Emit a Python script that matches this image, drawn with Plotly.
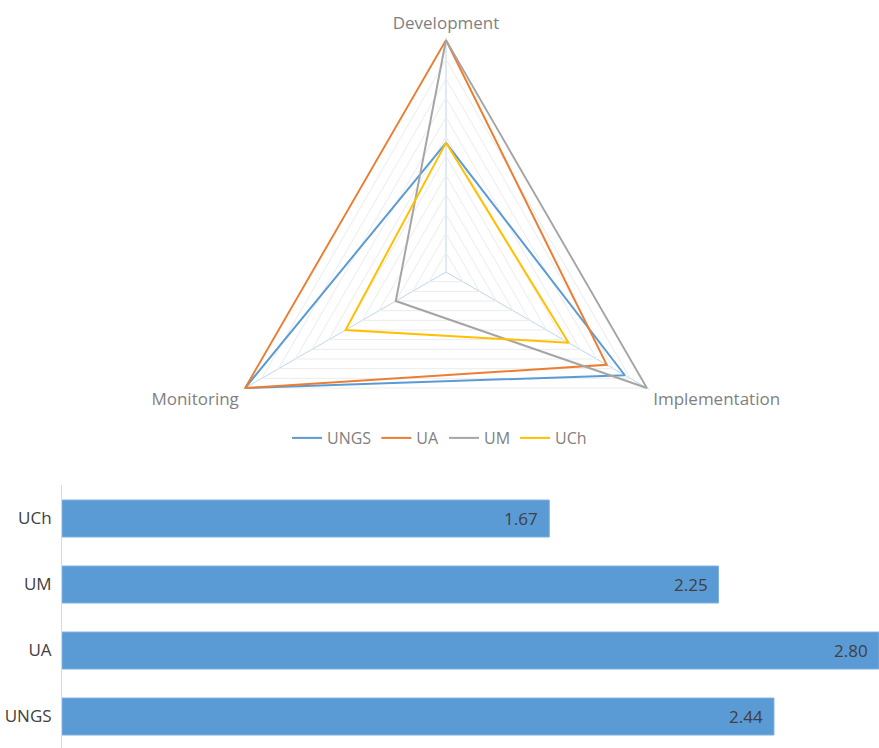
import plotly.graph_objects as go

# Radar dimensions (clockwise from top)
dimensions = ["Development", "Implementation", "Monitoring"]

# Scores per university on each dimension (scale 0-3)
ungs = [1.67, 2.67, 3.0]
ua = [3.0, 2.4, 3.0]
um = [3.0, 3.0, 0.75]
uch = [1.67, 1.83, 1.5]

series_names = ["UNGS", "UA", "UM", "UCh"]
series_values = [ungs, ua, um, uch]
series_colors = ["#5B9BD5", "#ED7D31", "#A5A5A5", "#FFC000"]

# Average score per university (bar chart, bottom to top)
bar_categories = ["UNGS", "UA", "UM", "UCh"]
bar_values = [2.44, 2.80, 2.25, 1.67]

FONT = "Open Sans, Liberation Sans, sans-serif"
W, H = 879, 748
R_MAX = 3.0
R_PAD = 3.03  # small headroom so the outer lines are not clipped

fig = go.Figure()

for name, vals, col in zip(series_names, series_values, series_colors):
    fig.add_trace(go.Scatterpolar(
        r=vals + vals[:1],
        theta=dimensions + dimensions[:1],
        mode="lines",
        name=name,
        line=dict(color=col, width=2),
        cliponaxis=False,
        subplot="polar",
    ))

fig.add_trace(go.Bar(
    x=bar_values,
    y=bar_categories,
    orientation="h",
    width=0.56,
    marker=dict(color="#5B9BD5", line=dict(color="#7FB0DD", width=1)),
    showlegend=False,
    xaxis="x",
    yaxis="y",
))

annotations = [
    dict(x=v, y=c, xref="x", yref="y", text=f"{v:.2f}", showarrow=False,
         xanchor="right", yanchor="middle", xshift=-9,
         font=dict(family=FONT, size=17, color="#404040"))
    for c, v in zip(bar_categories, bar_values)
]

cx, cy = 446, 272
R = 232 * R_PAD / R_MAX
fig.update_layout(
    width=W, height=H,
    margin=dict(l=0, r=0, t=0, b=0),
    paper_bgcolor="white",
    plot_bgcolor="white",
    font=dict(family=FONT, color="#7F7F7F"),
    polar=dict(
        domain=dict(x=[(cx - R) / W, (cx + R) / W],
                    y=[1 - (cy + R) / H, 1 - (cy - R) / H]),
        gridshape="linear",
        bgcolor="white",
        radialaxis=dict(range=[0, R_PAD], tick0=0, dtick=0.25,
                        showticklabels=False,
                        ticks="", showline=False, gridcolor="#EBEBEB",
                        gridwidth=1, layer="below traces"),
        angularaxis=dict(rotation=90, direction="clockwise",
                         gridcolor="#BDD7EE", showline=False,
                         layer="below traces",
                         ticks="outside", ticklen=1,
                         tickcolor="rgba(0,0,0,0)",
                         tickfont=dict(size=17, color="#7F7F7F")),
    ),
    legend=dict(orientation="h", x=0.5, xanchor="center",
                y=1 - 438 / H, yanchor="middle",
                font=dict(size=16, color="#7F7F7F"),
                itemwidth=30, tracegroupgap=0),
    xaxis=dict(domain=[62 / W, 1], range=[0, 2.8], showgrid=False,
               showticklabels=False, zeroline=False, showline=False,
               fixedrange=True),
    yaxis=dict(domain=[0, 1 - 485 / H], range=[-0.477, 3.508],
               categoryorder="array", categoryarray=bar_categories,
               showline=True, linecolor="#D9D9D9", linewidth=1,
               ticks="", ticklabelstandoff=6,
               tickfont=dict(size=17, color="#404040"), showgrid=False),
    annotations=annotations,
    bargap=0.44,
)

fig.write_html("out.html")
